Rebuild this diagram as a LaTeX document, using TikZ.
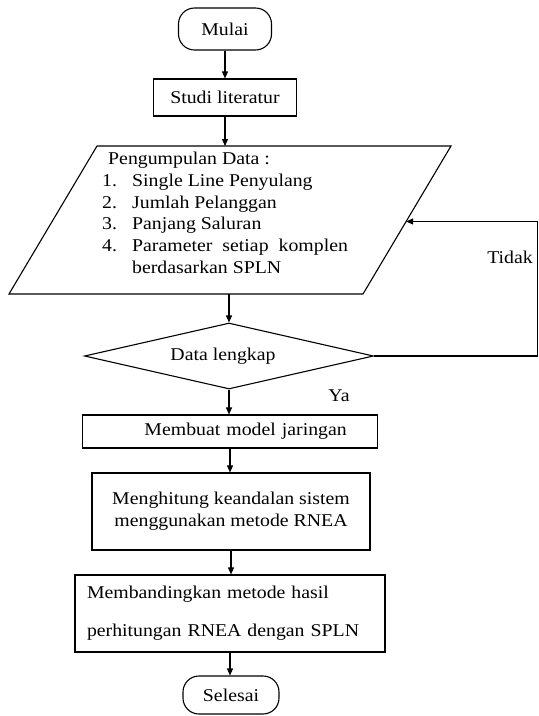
\documentclass[tikz,border=0pt]{standalone}
\usepackage{fontspec}
\setmainfont{Liberation Serif}[FakeStretch=1.1]
\usepackage{tikz}
\usetikzlibrary{arrows.meta, positioning, calc, shapes.geometric}

\begin{document}
\begin{tikzpicture}[
  x=1pt, y=-1pt,
  every node/.style={font=\fontsize{18}{21.7}\selectfont},
  box/.style={draw, line width=1.1pt, inner sep=0pt},
  term/.style={box, rounded corners=16pt},
  arr/.style={line width=1.1pt, -{Triangle[length=7pt, width=6pt]}},
]
\useasboundingbox (0,0) rectangle (539,716);

\node[term, minimum width=93pt, minimum height=42pt] (mulai) at (225,29) {Mulai};
\node[box, minimum width=143pt, minimum height=37pt] (studi) at (225,97.5) {Studi literatur};

% parallelogram for the data input
\coordinate (pTL) at (97,146);
\coordinate (pTR) at (451,146);
\coordinate (pBR) at (363,294);
\coordinate (pBL) at (9,294);
\coordinate (pIn) at ($(pTR)!0.51!(pBR)$);
\draw[line width=1.1pt] (pTL) -- (pTR) -- (pBR) -- (pBL) -- cycle;
\node[anchor=north west, align=left, inner sep=0pt] (dataTxt) at (102,152)
  {\hspace*{6pt}Pengumpulan Data :\\
   \makebox[30pt][l]{1.}Single Line Penyulang\\
   \makebox[30pt][l]{2.}Jumlah Pelanggan\\
   \makebox[30pt][l]{3.}Panjang Saluran\\
   \makebox[30pt][l]{4.}Parameter\hspace{10pt}setiap\hspace{10pt}komplen\\
   \hspace*{30pt}berdasarkan SPLN};

\node[box, diamond, aspect=4.4, minimum width=289pt, minimum height=66pt] (cek) at (229,356) {Data lengkap\hspace*{12pt}};
\node[box, minimum width=295pt, minimum height=33pt, text width=271pt, align=left] (model) at (230,431.5)
  {\hspace*{50pt}Membuat model jaringan};
\node[box, minimum width=278pt, minimum height=77pt, align=center] (hitung) at (231,511.5)
  {Menghitung keandalan sistem\\menggunakan metode RNEA};
\node[box, minimum width=310pt, minimum height=77pt, text width=286pt, align=left,
      font=\fontsize{18}{38}\selectfont] (banding) at (230,613.5)
  {Membandingkan metode hasil\\perhitungan RNEA dengan SPLN};
\node[term, minimum width=96pt, minimum height=38pt] (selesai) at (231,695) {Selesai};

\node (tidak) at (510,257) {Tidak};
\node (ya) at (339,396) {Ya};

\draw[arr] (mulai) -- (studi);
\draw[arr] (studi.south) -- (studi.south |- pTL);
\draw[arr] (cek.north |- pBL) -- (cek.north);
\draw[arr] (cek.south) -- (cek.south |- model.north);
\draw[arr] (cek.east) -- ++(163,0) |- (pIn);
\draw[arr] (model.south) -- (model.south |- hitung.north);
\draw[arr] (hitung.south) -- (hitung.south |- banding.north);
\draw[arr] (banding.south) -- (banding.south |- selesai.north);
\end{tikzpicture}
\end{document}
